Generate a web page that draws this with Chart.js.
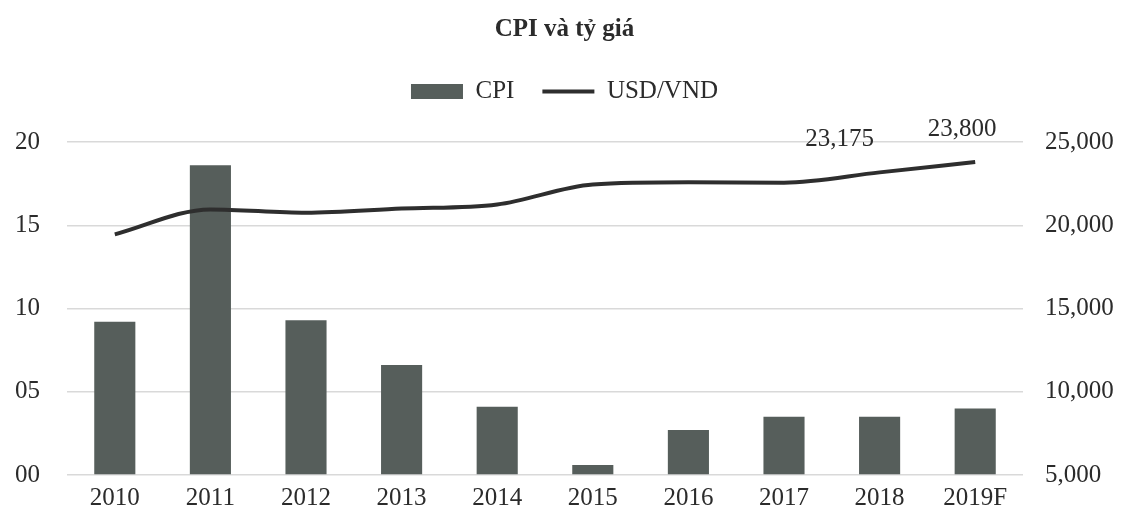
<!DOCTYPE html>
<html>
<head>
<meta charset="utf-8">
<script src="https://cdn.jsdelivr.net/npm/chart.js@4.4.1/dist/chart.umd.min.js"></script>
<style>
  html, body { margin: 0; padding: 0; background: #ffffff; }
  #wrap { width: 1128px; height: 517px; }
</style>
</head>
<body>
<div id="wrap"><canvas id="c" width="1128" height="517"></canvas></div>
<script>
const categories = ['2010', '2011', '2012', '2013', '2014', '2015', '2016', '2017', '2018', '2019F'];
const cpiValues = [9.2, 18.6, 9.3, 6.6, 4.1, 0.6, 2.7, 3.5, 3.5, 4.0];
const usdVndValues = [19450, 20950, 20750, 21000, 21250, 22450, 22580, 22560, 23175, 23800];
const leftTicks = [0, 5, 10, 15, 20];
const rightTicks = [5000, 10000, 15000, 20000, 25000];
const labeledPoints = [8, 9];
const labelOffsets = [-40, -13];

const FONT = "'Liberation Serif', 'Times New Roman', serif";
const TEXT = '#2b2b2b';
const BAR = '#565e5b';
const LINE = '#2e2e2e';

const fmt = v => v.toLocaleString('en-US');

const pointLabels = {
  id: 'pointLabels',
  afterDatasetsDraw(chart) {
    const meta = chart.getDatasetMeta(1);
    const ctx = chart.ctx;
    ctx.save();
    ctx.font = '25px ' + FONT;
    ctx.fillStyle = TEXT;
    ctx.textAlign = 'center';
    ctx.textBaseline = 'middle';
    labeledPoints.forEach((i, k) => {
      const p = meta.data[i];
      ctx.fillText(fmt(usdVndValues[i]), p.x + labelOffsets[k], p.y - 33);
    });
    ctx.restore();
  }
};

const legendMargin = {
  id: 'legendMargin',
  beforeInit(chart) {
    const fit = chart.legend.fit;
    chart.legend.fit = function () {
      fit.bind(chart.legend)();
      this.height += 28;
    };
  }
};

new Chart(document.getElementById('c'), {
  data: {
    labels: categories,
    datasets: [
      {
        type: 'bar',
        label: 'CPI',
        data: cpiValues,
        backgroundColor: BAR,
        borderWidth: 0,
        yAxisID: 'y',
        barPercentage: 0.43,
        categoryPercentage: 1.0,
        order: 2
      },
      {
        type: 'line',
        label: 'USD/VND',
        data: usdVndValues,
        borderColor: LINE,
        borderWidth: 4,
        pointRadius: 0,
        cubicInterpolationMode: 'monotone',
        yAxisID: 'y1',
        order: 1
      }
    ]
  },
  options: {
    responsive: false,
    animation: false,
    events: [],
    layout: { padding: { left: 15, right: 14, top: 7, bottom: -2 } },
    plugins: {
      title: {
        display: true,
        text: 'CPI và tỷ giá',
        color: TEXT,
        font: { family: FONT, size: 25, weight: 'bold' },
        padding: { top: 8, bottom: 6 }
      },
      legend: {
        display: true,
        position: 'top',
        labels: {
          color: TEXT,
          font: { family: FONT, size: 25 },
          usePointStyle: true,
          pointStyleWidth: 52,
          boxHeight: 15,
          padding: 28,
          generateLabels(chart) {
            return [
              { text: 'CPI', fillStyle: BAR, strokeStyle: BAR, lineWidth: 0, pointStyle: 'rect', datasetIndex: 0, fontColor: TEXT },
              { text: 'USD/VND', fillStyle: LINE, strokeStyle: LINE, lineWidth: 4, pointStyle: 'line', datasetIndex: 1, fontColor: TEXT }
            ];
          }
        }
      },
      tooltip: { enabled: false }
    },
    scales: {
      x: {
        grid: { display: false },
        border: { display: false },
        ticks: { color: TEXT, font: { family: FONT, size: 25 }, padding: 0, maxRotation: 0 },
        afterFit(scale) { scale.paddingLeft = 0; scale.paddingRight = 0; }
      },
      y: {
        position: 'left',
        min: 0,
        max: 20,
        afterBuildTicks(axis) { axis.ticks = leftTicks.map(v => ({ value: v })); },
        afterFit(scale) { scale.width = 52; },
        grid: { color: '#d9d9d9', lineWidth: 1.5, drawTicks: false },
        border: { display: false },
        ticks: {
          color: TEXT,
          font: { family: FONT, size: 25 },
          padding: 27,
          callback: v => String(v).padStart(2, '0')
        }
      },
      y1: {
        position: 'right',
        min: 5000,
        max: 25000,
        afterBuildTicks(axis) { axis.ticks = rightTicks.map(v => ({ value: v })); },
        afterFit(scale) { scale.width = 91; },
        grid: { drawOnChartArea: false, drawTicks: false },
        border: { display: false },
        ticks: {
          color: TEXT,
          font: { family: FONT, size: 25 },
          padding: 22,
          callback: v => fmt(v)
        }
      }
    }
  },
  plugins: [pointLabels, legendMargin]
});
</script>
</body>
</html>
